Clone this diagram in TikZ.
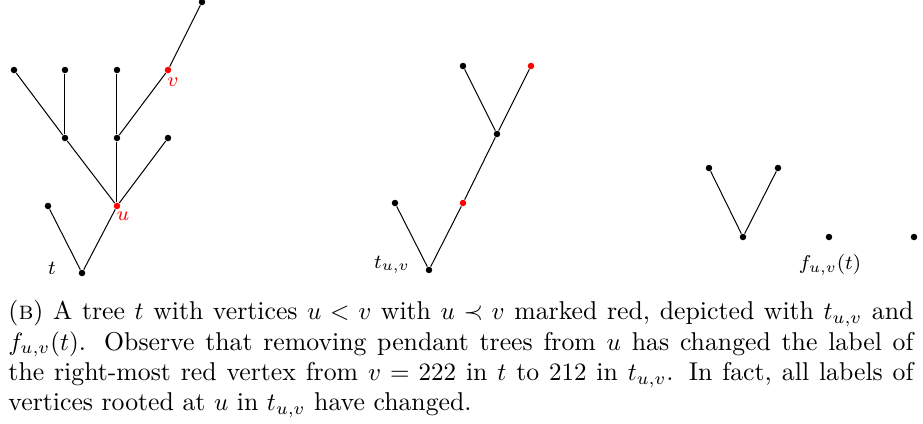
\documentclass[tikz,border=0pt]{standalone}
\usepackage{amsmath}
\usepackage{amssymb}
\usepackage{xcolor}
\usepackage{tikz}
\usetikzlibrary{positioning,calc}

\begin{document}
\begin{tikzpicture}[
    x=0.4pt, y=-0.4pt,
    vtx/.style={circle, fill=black, inner sep=0pt, minimum size=2.6pt},
    rvtx/.style={vtx, fill=red},
    edge/.style={draw=black, line width=0.4pt},
    lbl/.style={inner sep=0pt, font=\footnotesize},
    caption/.style={text width=362pt, align=justify, anchor=north west, inner sep=0pt, font=\fontsize{10.3pt}{12.1pt}\selectfont}
]
    \useasboundingbox (0,0) rectangle (923,423);

    % the tree t
    \node [vtx]  (a0) at (82,273) {};
    \node [vtx]  (a1) at (48,206) {};
    \node [rvtx] (au) at (117,206) {};
    \node [vtx]  (a2) at (65,138) {};
    \node [vtx]  (a3) at (117,138) {};
    \node [vtx]  (a4) at (168,138) {};
    \node [vtx]  (a5) at (14,70) {};
    \node [vtx]  (a6) at (65,70) {};
    \node [vtx]  (a7) at (117,70) {};
    \node [rvtx] (av) at (168,70) {};
    \node [vtx]  (a8) at (202,2) {};

    \draw [edge] (a0) -- (a1);
    \draw [edge] (a0) -- (au);
    \draw [edge] (au) -- (a2);
    \draw [edge] (au) -- (a3);
    \draw [edge] (au) -- (a4);
    \draw [edge] (a2) -- (a5);
    \draw [edge] (a2) -- (a6);
    \draw [edge] (a3) -- (a7);
    \draw [edge] (a3) -- (av);
    \draw [edge] (av) -- (a8);

    \node [lbl] (lt) at (52,268) {$t$};
    \node [lbl, text=red] (lu) at (123,216) {$u$};
    \node [lbl, text=red] (lv) at (173,82) {$v$};

    % the tree t_{u,v}
    \node [vtx]  (b0) at (429,270) {};
    \node [vtx]  (b1) at (395,203) {};
    \node [rvtx] (bu) at (463,203) {};
    \node [vtx]  (b2) at (497,134) {};
    \node [vtx]  (b3) at (463,66) {};
    \node [rvtx] (bv) at (531,66) {};

    \draw [edge] (b0) -- (b1);
    \draw [edge] (b0) -- (bu);
    \draw [edge] (bu) -- (b2);
    \draw [edge] (b2) -- (b3);
    \draw [edge] (b2) -- (bv);

    \node [lbl] (ltuv) at (392,265) {$t_{u,v}$};

    % the forest f_{u,v}(t)
    \node [vtx] (c0) at (743,237) {};
    \node [vtx] (c1) at (709,168) {};
    \node [vtx] (c2) at (778,168) {};
    \node [vtx] (c3) at (829,237) {};
    \node [vtx] (c4) at (914,237) {};

    \draw [edge] (c0) -- (c1);
    \draw [edge] (c0) -- (c2);

    \node [lbl] (lf) at (830,265) {$f_{u,v}(t)$};

    % caption
    \node [caption] (cap) at (8,300) {(\textsc{b}) A tree $t$ with vertices $u<v$ with $u\prec v$ marked red, depicted with $t_{u,v}$ and\linebreak
    $f_{u,v}(t)$. Observe that removing pendant trees from $u$ has changed the label of\linebreak
    the right-most red vertex from $v=222$ in $t$ to $212$ in $t_{u,v}$. In fact, all labels of\linebreak
    vertices rooted at $u$ in $t_{u,v}$ have changed.};
\end{tikzpicture}
\end{document}
